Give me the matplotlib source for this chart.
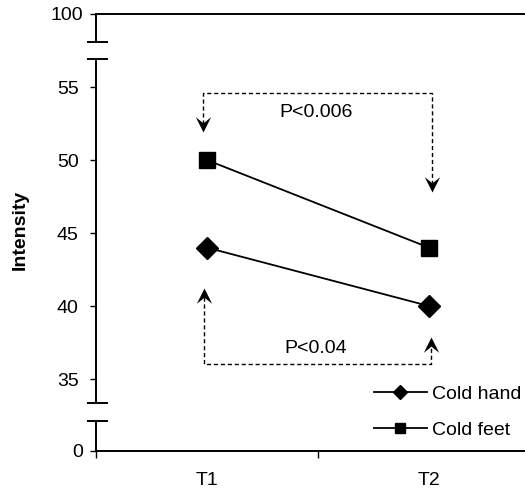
import matplotlib
matplotlib.use('Agg')
import matplotlib.pyplot as plt
from matplotlib.path import Path
from matplotlib.transforms import blended_transform_factory

plt.rcParams['font.family'] = ['Liberation Sans', 'DejaVu Sans']
plt.rcParams['font.size'] = 14

times = ['T1', 'T2']
cold_hand = [44, 40]
cold_feet = [50, 44]
p_feet = 'P<0.006'
p_hand = 'P<0.04'

W, H = 525, 495
fig = plt.figure(figsize=(W / 100, H / 100), dpi=100)

left = 96 / W
width = 444 / W
ax_top = fig.add_axes([left, (H - 41.7) / H, width, 27.7 / H])
ax_mid = fig.add_axes([left, (H - 402.7) / H, width, 343.7 / H])
ax_bot = fig.add_axes([left, (H - 450.7) / H, width, 30 / H])

x = [1, 2]
lw_axis = 1.4
for ax in (ax_top, ax_mid, ax_bot):
    ax.set_xlim(0.5, 2.5)
    ax.patch.set_visible(False)
    for s in ax.spines.values():
        s.set_visible(False)
    ax.spines['left'].set_visible(True)
    ax.spines['left'].set_linewidth(lw_axis)
    ax.set_xticks([])
    ax.tick_params(axis='y', direction='out', length=4.5, width=1, labelsize=14)

# top segment: 100
ax_top.set_ylim(98, 100)
ax_top.set_yticks([100])
ax_top.spines['top'].set_visible(True)
ax_top.spines['top'].set_linewidth(lw_axis)
ax_top.tick_params(axis='y', pad=5)

# middle segment: 35 - 55
ax_mid.set_ylim(33.38, 56.92)
ax_mid.set_yticks([35, 40, 45, 50, 55])
ax_mid.tick_params(axis='y', pad=8)

# bottom segment: 0 and the category axis
ax_bot.set_ylim(0, 2)
ax_bot.set_yticks([0])
ax_bot.tick_params(axis='y', pad=5)
ax_bot.spines['bottom'].set_visible(True)
ax_bot.spines['bottom'].set_linewidth(lw_axis)
ax_bot.set_xticks([0.5, 1.5, 2.5], minor=True)
ax_bot.set_xticks(x)
ax_bot.set_xticklabels(times)
ax_bot.tick_params(axis='x', which='major', length=0, pad=15.5, labelsize=14)
ax_bot.tick_params(axis='x', which='minor', direction='out', length=5, width=1)

# break caps on the y axis
capx = [88 / W, 107 / W]
for ax, yy in ((ax_top, 0), (ax_mid, 1), (ax_mid, 0), (ax_bot, 1)):
    tr = blended_transform_factory(fig.transFigure, ax.transAxes)
    ax.plot(capx, [yy, yy], color='black', lw=lw_axis, transform=tr, clip_on=False)

# data
ax_mid.plot(x, cold_hand, color='black', lw=1.3, marker='D', ms=10.7,
            label='Cold hand', clip_on=False)
ax_mid.plot(x, cold_feet, color='black', lw=1.3, marker='s', ms=11.5,
            label='Cold feet', clip_on=False)

# notched arrowheads, tip at the marker origin
head_down = Path([(0, 0), (-0.5, 1), (0, 0.6), (0.5, 1), (0, 0)],
                 [Path.MOVETO, Path.LINETO, Path.LINETO, Path.LINETO, Path.CLOSEPOLY])
head_up = Path([(0, 0), (-0.5, -1), (0, -0.6), (0.5, -1), (0, 0)],
               [Path.MOVETO, Path.LINETO, Path.LINETO, Path.LINETO, Path.CLOSEPOLY])
dash = dict(color='black', lw=1, dashes=(3, 2))
hd = dict(color='black', ms=22, mew=0, linestyle='none')

# significance brackets
xl, xr = 0.98, 2.013
ax_mid.plot([xl, xl, xr, xr], [52.5, 54.59, 54.59, 48.4], **dash)
ax_mid.plot([xl], [51.92], marker=head_down, **hd)
ax_mid.plot([xr], [47.8], marker=head_down, **hd)
ax_mid.text(1.49, 53.29, p_feet, ha='center', va='center', fontsize=14)

xl, xr = 0.985, 2.01
ax_mid.plot([xl, xl, xr, xr], [40.6, 36.03, 36.03, 37.3], **dash)
ax_mid.plot([xl], [41.23], marker=head_up, **hd)
ax_mid.plot([xr], [37.88], marker=head_up, **hd)
ax_mid.text(1.49, 37.12, p_hand, ha='center', va='center', fontsize=14)

# legend
h, l = ax_mid.get_legend_handles_labels()
fig.legend(h[:2], l[:2], loc='center left', bbox_to_anchor=(374 / W, (H - 412) / H),
           frameon=False, borderpad=0, borderaxespad=0, handlelength=2.7,
           handletextpad=0.3, labelspacing=0.95, markerscale=0.65, fontsize=14)

fig.text(20 / W, (H - 230) / H, 'Intensity', rotation=90, ha='center', va='center',
         fontsize=14, fontweight='bold')

fig.savefig('out.png', dpi=100)
